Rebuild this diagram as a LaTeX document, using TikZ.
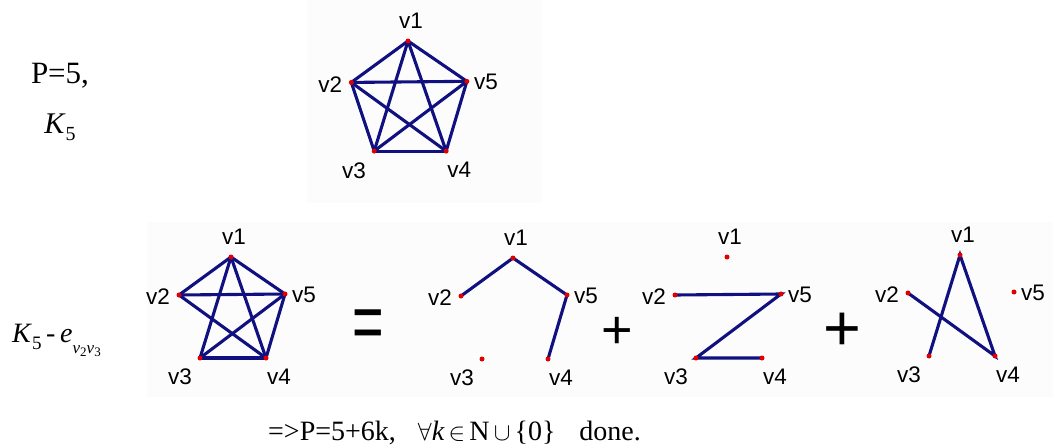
\documentclass[tikz,border=0pt]{standalone}
\usepackage{fontspec}
\setmainfont{Liberation Serif}
\newfontfamily\labelfont{Liberation Sans}
\usetikzlibrary{positioning}
\definecolor{edgeblue}{HTML}{101080}
\definecolor{dotred}{HTML}{E00000}
\definecolor{panelgray}{HTML}{FCFCFC}

\tikzset{
    edge/.style={edgeblue, line width=3.1pt},
    vlabel/.style={font=\labelfont\fontsize{22.5}{22.5}\selectfont, inner sep=0pt},
    optext/.style={font=\labelfont\fontsize{54}{54}\selectfont, inner sep=0pt},
    mathtext/.style={font=\fontsize{28}{28}\selectfont, inner sep=0pt},
}

% five vertices of one pentagon, names #1v1 ... #1v5
\newcommand{\pentagon}[1]{%
    \coordinate (#1v1) at (0,0);
    \coordinate (#1v2) at (-52,38);
    \coordinate (#1v5) at (54,37);
    \coordinate (#1v3) at (-31,101);
    \coordinate (#1v4) at (35,101);
}
% labels v1 ... v5 round the vertices
\newcommand{\pentalabels}[1]{%
    \node[vlabel, above=12pt of #1v1, xshift=3pt] (#1l1) {v1};
    \node[vlabel, left=9pt of #1v2, yshift=-2pt] (#1l2) {v2};
    \node[vlabel, right=7pt of #1v5, yshift=-1pt] (#1l5) {v5};
    \node[vlabel, below left=11pt and 8pt of #1v3] (#1l3) {v3};
    \node[vlabel, below right=11pt and 1pt of #1v4] (#1l4) {v4};
}
\newcommand{\pentadots}[1]{%
    \foreach \i in {1,...,5} \fill[dotred] (#1v\i) circle (2.5pt);
}

\begin{document}
\begin{tikzpicture}[x=1pt, y=-1pt]
    \useasboundingbox (0,0) rectangle (1053,447);

    % faint panels behind the drawings
    \fill[panelgray] (307,0) rectangle (542,203);
    \fill[panelgray] (147,222) rectangle (1053,397);

    % ========== top: K5 ==========
    \node[font=\fontsize{31}{31}\selectfont, inner sep=0pt, anchor=base] (pfive) at (60,83) {P=5,};
    \node[font=\fontsize{30}{30}\selectfont, inner sep=0pt, anchor=base] (kfive) at (60,133)
        {\textit{K}\raisebox{-0.25em}{\fontsize{20}{20}\selectfont 5}};

    \begin{scope}[shift={(408,41)}, scale=1.09]
        \pentagon{t}
    \end{scope}
    \foreach \a/\b in {1/2,1/3,1/4,1/5,2/3,2/4,2/5,3/4,3/5,4/5}
        \draw[edge] (tv\a) -- (tv\b);
    \pentadots{t}
    \pentalabels{t}

    % ========== bottom: K5 - e ==========
    \node[font=\fontsize{28}{28}\selectfont, inner sep=0pt, anchor=base west] (kminus) at (12,342)
        {\textit{K}\raisebox{-0.25em}{\fontsize{19}{19}\selectfont 5}\,-\,\textit{e}\raisebox{-0.4em}{\fontsize{17}{17}\selectfont\textit{v}\raisebox{-0.2em}{\fontsize{13}{13}\selectfont 2}\textit{v}\raisebox{-0.2em}{\fontsize{13}{13}\selectfont 3}}};

    % full graph
    \begin{scope}[shift={(231,257)}]
        \pentagon{a}
    \end{scope}
    \foreach \a/\b in {1/2,1/3,1/4,1/5,2/4,2/5,3/4,3/5,4/5}
        \draw[edge] (av\a) -- (av\b);
    \pentadots{a}
    \pentalabels{a}

    \node[optext] (eq) at (368,330) {\scalebox{1.0}[1.5]{=}};

    % first summand
    \begin{scope}[shift={(513,258)}]
        \pentagon{b}
    \end{scope}
    \draw[edge] (bv2) -- (bv1) -- (bv5) -- (bv4);
    \pentadots{b}
    \pentalabels{b}

    \node[optext] (plusa) at (617,333) {+};

    % second summand
    \begin{scope}[shift={(727,257)}]
        \pentagon{c}
    \end{scope}
    \draw[edge] (cv2) -- (cv5) -- (cv3) -- (cv4);
    \pentadots{c}
    \pentalabels{c}

    \node[optext, scale=1.2] (plusb) at (842,332) {+};

    % third summand
    \begin{scope}[shift={(960,255)}]
        \pentagon{d}
    \end{scope}
    \draw[edge] (dv3) -- (dv1) -- (dv4) -- (dv2);
    \pentadots{d}
    \pentalabels{d}

    % conclusion
    \node[mathtext, anchor=base west] (done) at (268,440)
        {=>P=5+6k,\hspace{22pt}$\forall$\textit{k}$\,\in\,$N$\,\cup\,$\{0\}\hspace{24pt}done.};
\end{tikzpicture}
\end{document}
